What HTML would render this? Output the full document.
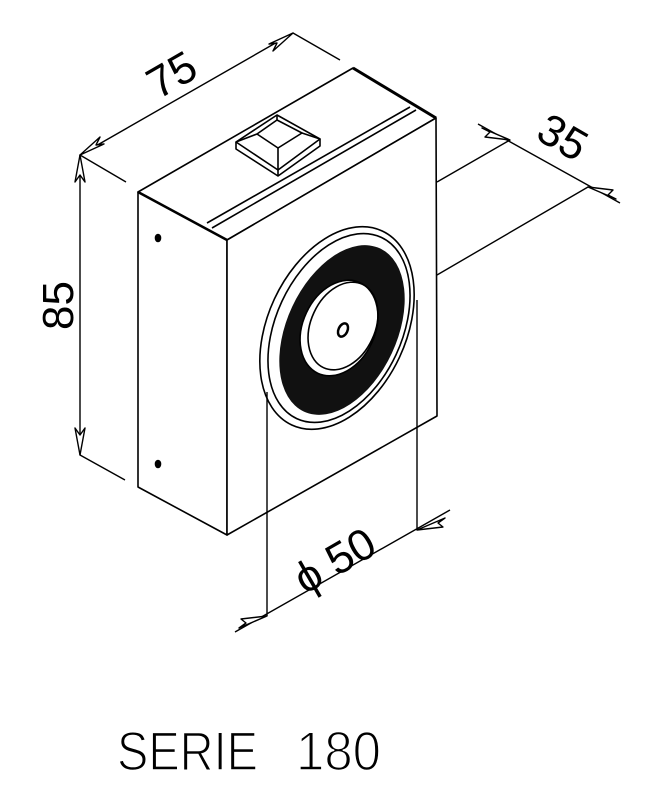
<!DOCTYPE html>
<html><head><meta charset="utf-8"><style>html,body{margin:0;padding:0;background:#fff}svg{display:block}</style></head>
<body>
<svg width="667" height="801" viewBox="0 0 667 801" xmlns="http://www.w3.org/2000/svg" font-family="Liberation Sans, sans-serif">
<g fill="none" stroke="#000" stroke-width="1.6" stroke-linejoin="round">
<!-- box -->
<path d="M138,192 L353,68 L436,118 L227,240 Z" fill="#fff"/>
<path d="M138,192 L227,240 L227,535 L138,487 Z" fill="#fff"/>
<path d="M227,240 L436,118 L437,416 L227,535 Z" fill="#fff"/>
<path d="M353,68 L436,118" stroke-width="3"/>
<path d="M138,192 L227,240" stroke-width="2.5"/>
<path d="M207,223 L410,107 M212,228 L416,110"/>
<!-- button -->
<path d="M236,142 L277,115 L320,139 L278,170 Z" fill="#fff"/>
<path d="M236,142 L236,149 L278,176 L320,146 L320,139"/>
<path d="M278,170 L278,176"/>
<path d="M257,134 L277,120 L302,133 L278,148 Z"/>
<path d="M236,142 L257,134 M277,115 L277,120 M320,139 L302,133 M278,170 L278,148"/>
<!-- screws -->
<ellipse cx="158" cy="238" rx="2.5" ry="3.5" fill="#000"/>
<ellipse cx="158" cy="464" rx="2.5" ry="3.5" fill="#000"/>
<!-- magnet -->
<ellipse cx="337" cy="328" rx="69" ry="107" transform="rotate(25 337 328)" fill="#fff"/>
<ellipse cx="339" cy="328" rx="63" ry="100" transform="rotate(25 339 328)"/>
<ellipse cx="342" cy="330" rx="55" ry="90" transform="rotate(25 342 330)" fill="#111" stroke="none"/>
<ellipse cx="339" cy="328" rx="36" ry="50" transform="rotate(25 339 328)" fill="#fff"/>
<ellipse cx="343" cy="326" rx="32" ry="46" transform="rotate(25 343 326)"/>
<ellipse cx="343" cy="330" rx="4.5" ry="7" transform="rotate(25 343 330)" stroke-width="2.5"/>
<!-- dimensions -->
<g stroke-width="1.4">
<path d="M80,155 L293,33 M80,155 L126,182 M293,33 L340,60"/>
<path d="M80,155 L80,455 M80,455 L125,480"/>
<path d="M478,124 L620,203 M437,182 L510,140 M437,275 L588,187"/>
<path d="M235,632 L450,510 M267,392 L267,616 M417,300 L417,530"/>
</g>
<g fill="#fff" stroke-width="1.4">
<path d="M80,155 L100,137 L96,145 L104,144 Z"/>
<path d="M293,33 L273,51 L277,43 L269,44 Z"/>
<path d="M80,155 L75,182 L80,175 L85,182 Z"/>
<path d="M80,455 L75,428 L80,435 L85,428 Z"/>
<path d="M510,140 L482,128 L490,132 L485,137 Z"/>
<path d="M588,187 L616,199 L608,195 L613,190 Z"/>
<path d="M267,616 L239,628 L246,623 L241,619 Z"/>
<path d="M417,530 L445,518 L438,523 L443,527 Z"/>
</g>
</g>
<g fill="#000">
<text x="0" y="0" font-size="44" transform="translate(158,100) rotate(-30)">75</text>
<text x="0" y="0" font-size="44" transform="translate(73,330) rotate(-90)">85</text>
<text x="0" y="0" font-size="44" transform="translate(534,138) rotate(30)">35</text>
<text x="0" y="0" font-size="44" transform="translate(305,595) rotate(-30)">ϕ 50</text>
<g font-size="55" fill="#000" stroke="#fff" stroke-width="1.6">
<text x="117" y="770" textLength="141" lengthAdjust="spacingAndGlyphs">SERIE</text>
<text x="296" y="770" textLength="85" lengthAdjust="spacingAndGlyphs">180</text>
</g>
</g>
</svg>
</body></html>
